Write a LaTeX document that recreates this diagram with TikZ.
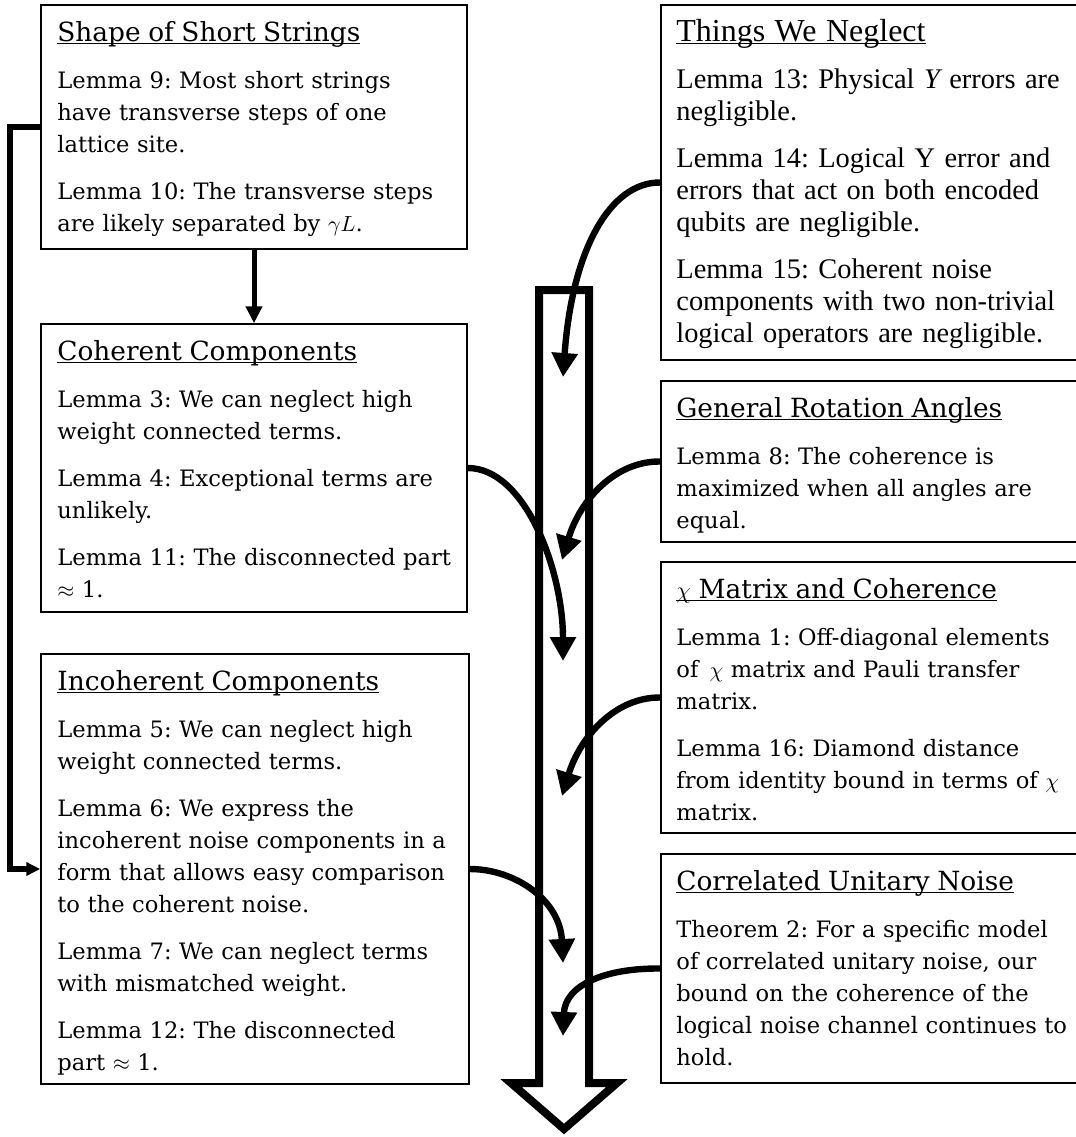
\documentclass[tikz,border=0pt]{standalone}
\usepackage{fontspec}
\setmainfont{DejaVu Serif}
\newfontfamily\timesfont{Liberation Serif}
\usetikzlibrary{arrows.meta,fit}
\newsavebox{\titlebox}
\newcommand{\boxtitle}[2][13.2]{\rule{0pt}{12pt}\sbox{\titlebox}{\fontsize{#1}{16}\selectfont #2}%
  \rlap{\rule[-1.4pt]{\wd\titlebox}{0.7pt}}\usebox{\titlebox}\\[7.5pt]}
\tikzset{>=Triangle}
\tikzset{
  lemmabox/.style={draw, line width=0.75pt, inner sep=0pt},
  lemmatext/.style={anchor=north west, inner sep=0pt, align=left, text width=#1,
    font=\fontsize{11.3}{16}\selectfont},
  lemmatext/.default=215pt,
  link/.style={line width=2.5pt, -{Triangle[length=8.5pt,width=8pt]}},
  elbow/.style={line width=2.8pt, -{Triangle[length=7pt,width=6.5pt]}},
  bendarrow/.style={line width=3.2pt, -{Triangle[length=12pt,width=12.5pt]}},
  hollow/.style={line width=4pt, line join=miter}
}

\begin{document}
\frenchspacing
\begin{tikzpicture}[x=0.5pt,y=-0.5pt]
	\useasboundingbox (0,0) rectangle (1076,1137);
	\clip (0,0) rectangle (1076,1137);

	% left column
	\node[lemmabox, fit={(41,5) (467,249)}] (shape) {};
	\node[lemmatext] (shapetxt) at (57,17) {\boxtitle{Shape of Short Strings}
		Lemma 9: Most short strings\\ have transverse steps of one\\ lattice site.\\[7.5pt]
		Lemma 10: The transverse steps\\ are likely separated by $\gamma L$.};

	\node[lemmabox, fit={(41,324) (467,612)}] (coh) {};
	\node[lemmatext] (cohtxt) at (57,336) {\boxtitle{Coherent Components}
		Lemma 3: We can neglect high\\ weight connected terms.\\[7.5pt]
		Lemma 4: Exceptional terms are\\ unlikely.\\[7.5pt]
		Lemma 11: The disconnected part\\ $\approx$ 1.};

	\node[lemmabox, fit={(41,654) (469,1084)}] (incoh) {};
	\node[lemmatext] (incohtxt) at (57,666) {\boxtitle{Incoherent Components}
		Lemma 5: We can neglect high\\ weight connected terms.\\[7.5pt]
		Lemma 6: We express the\\ incoherent noise components in a\\ form that allows easy comparison\\ to the coherent noise.\\[7.5pt]
		Lemma 7: We can neglect terms\\ with mismatched weight.\\[7.5pt]
		Lemma 12: The disconnected\\ part $\approx$ 1.};

	% right column
	\node[lemmabox, fit={(661,5) (1100,360)}] (neglect) {};
	\node[lemmatext=260pt, font=\timesfont\fontsize{14.2}{16}\selectfont] (neglecttxt) at (676,17) {\boxtitle[16]{Things We Neglect}
		Lemma 13: Physical {\itshape Y} errors are\\ negligible.\\[7.5pt]
		Lemma 14: Logical Y error and\\ errors that act on both encoded\\ qubits are negligible.\\[7.5pt]
		Lemma 15: Coherent noise\\ components with two non-trivial\\ logical operators are negligible.};

	\node[lemmabox, fit={(661,381) (1100,542)}] (rot) {};
	\node[lemmatext=240pt] (rottxt) at (676,393) {\boxtitle{General Rotation Angles}
		Lemma 8: The coherence is\\ maximized when all angles are\\ equal.};

	\node[lemmabox, fit={(661,562) (1100,833)}] (chi) {};
	\node[lemmatext=240pt] (chitxt) at (676,574) {\boxtitle{$\chi$ Matrix and Coherence}
		Lemma 1: Off-diagonal elements\\ of \,$\chi$ matrix and Pauli transfer\\ matrix.\\[7.5pt]
		Lemma 16: Diamond distance\\ from identity bound in terms of $\chi$\\ matrix.};

	\node[lemmabox, fit={(661,854) (1100,1083)}] (unitary) {};
	\node[lemmatext=240pt] (unitarytxt) at (676,866) {\boxtitle{Correlated Unitary Noise}
		Theorem 2: For a specific model\\ of correlated unitary noise, our\\ bound on the coherence of the\\ logical noise channel continues to\\ hold.};

	% big hollow arrow
	\draw[hollow] (539,290) -- (539,1083) -- (511,1083) -- (564,1129)
		-- (617,1083) -- (589,1083) -- (589,290) -- cycle;

	% straight connectors
	\draw[link] (shape.south) -- (coh.north);
	\draw[elbow] (shape.west) -- ++(-30,0) |- (incoh.west);

	% curved connectors into the big arrow
	\coordinate (tipD) at (563,377);
	\coordinate (tipB) at (563,661);
	\coordinate (tipE) at (562,560);
	\coordinate (tipF) at (562,796);
	\coordinate (tipC) at (563,963);
	\coordinate (tipG) at (563,1036);

	\draw[bendarrow] (neglect.west) .. controls (610,182) and (572,250) .. (tipD);
	\draw[bendarrow] (coh.east) .. controls (525,468) and (563,570) .. (tipB);
	\draw[bendarrow] (rot.west) .. controls (615,461) and (580,500) .. (tipE);
	\draw[bendarrow] (chi.west) .. controls (615,697) and (580,737) .. (tipF);
	\draw[bendarrow] (incoh.east) .. controls (515,869) and (560,900) .. (tipC);
	\draw[bendarrow] (unitary.west) .. controls (605,968) and (565,985) .. (tipG);

\end{tikzpicture}
\end{document}
